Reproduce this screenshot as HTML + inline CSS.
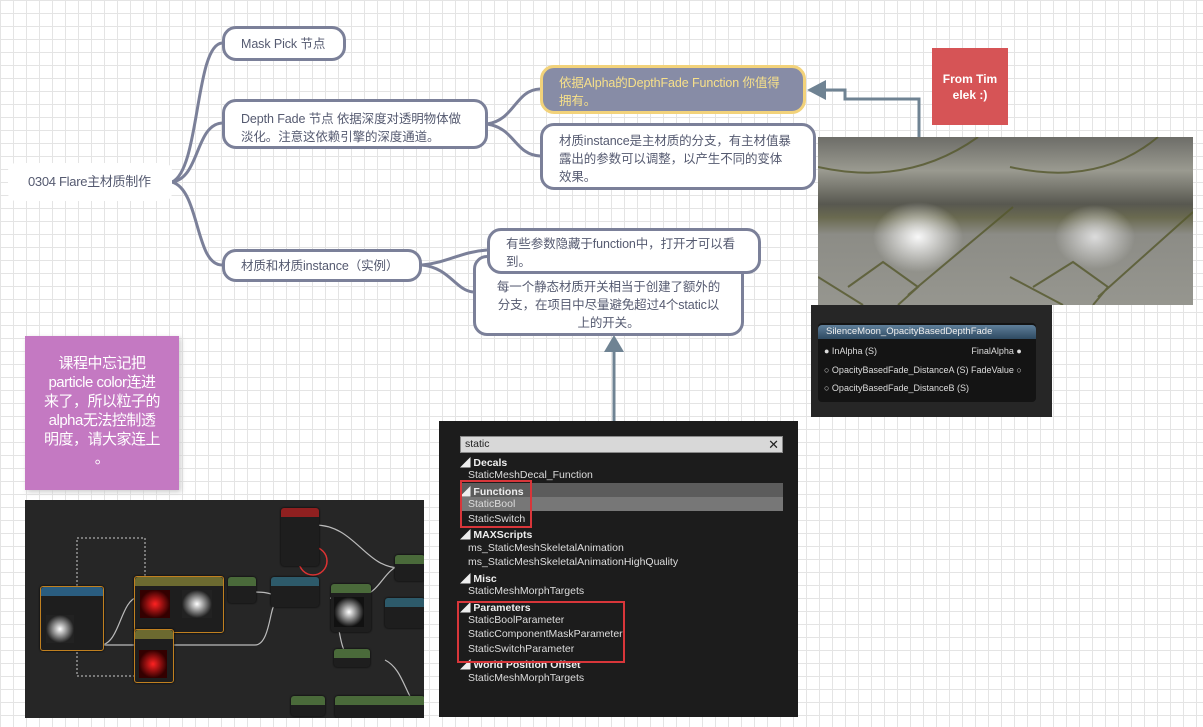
<!DOCTYPE html>
<html><head><meta charset="utf-8"><style>
body{margin:0;width:1203px;height:727px;overflow:hidden;position:relative;background-color:#fff;
background-image:linear-gradient(#e4e4e4 1px,transparent 1px),linear-gradient(90deg,#e4e4e4 1px,transparent 1px);background-size:13px 13px;
font-family:"Liberation Sans","Noto Sans CJK SC",sans-serif;}
.n{position:absolute;box-sizing:border-box;background:#fff;border:3px solid #7b8099;border-radius:14px;color:#555a70;font-size:12.5px;line-height:18px;white-space:nowrap;letter-spacing:-0.1px}
.a{position:absolute}
.s{position:absolute;left:468px;color:#ddd;font-size:10.5px;white-space:nowrap}
.h{position:absolute;left:460px;color:#eee;font-size:10.5px;font-weight:bold;white-space:nowrap}
.nd{position:absolute;background:#1e1e1e;border-radius:3px;box-shadow:0 0 2px #000}
.nt{height:9px;border-radius:3px 3px 0 0}
</style></head><body>

<svg class="a" style="left:0;top:0" width="1203" height="727">
<g fill="none" stroke="#7b8099" stroke-width="3">
<path d="M172 182 C200 170,195 45,222 43"/>
<path d="M172 182 C200 178,195 125,222 123"/>
<path d="M172 182 C200 190,195 265,222 265"/>
<path d="M487 124 C515 120,515 90,540 89"/>
<path d="M487 124 C515 128,515 155,540 156"/>
<path d="M422 265 C450 262,460 252,487 250"/>
<path d="M422 265 C450 268,455 290,473 292"/>
</g>
<path d="M919 137 V99 H845 V90 H822" fill="none" stroke="#6f8393" stroke-width="3"/>
<polygon points="807,90 826,80 826,100" fill="#6f8393"/>
<path d="M614 421 V350" fill="none" stroke="#6f8393" stroke-width="3"/>
<polygon points="614,335 604,352 624,352" fill="#6f8393"/>
</svg>

<div class="a" style="left:8px;top:163px;width:164px;height:38px;background:#fff;border-radius:8px;font-size:13px;color:#555a70;line-height:38px;padding-left:20px;box-sizing:border-box;white-space:nowrap;letter-spacing:-0.3px">0304 Flare主材质制作</div>
<div class="n" style="left:222px;top:26px;width:124px;height:35px;padding:6px 16px">Mask Pick 节点</div>
<div class="n" style="left:222px;top:99px;width:266px;height:50px;padding:8px 14px 0 16px;line-height:18px">Depth Fade 节点 依据深度对透明物体做<br>淡化。注意这依赖引擎的深度通道。</div>
<div class="n" style="left:222px;top:249px;width:200px;height:33px;padding:5px 16px">材质和材质instance（实例）</div>
<div class="n" style="left:540px;top:65px;width:266px;height:49px;padding:6px 12px 0 16px;background:#878ca6;border-color:#f2d27a;color:#f7e08a">依据Alpha的DepthFade Function 你值得<br>拥有。</div>
<div class="n" style="left:540px;top:123px;width:276px;height:67px;padding:6px 10px 0 16px">材质instance是主材质的分支，有主材值暴<br>露出的参数可以调整，以产生不同的变体<br>效果。</div>
<div class="n" style="left:473px;top:255px;width:271px;height:81px;padding:20px 10px 0;text-align:center">每一个静态材质开关相当于创建了额外的<br>分支，在项目中尽量避免超过4个static以<br>上的开关。</div>
<div class="n" style="left:487px;top:228px;width:274px;height:46px;padding:4px 12px 0 16px">有些参数隐藏于function中，打开才可以看<br>到。</div>

<div class="a" style="left:932px;top:48px;width:76px;height:77px;background:#d65456;color:#fff;font-size:12px;font-weight:bold;text-align:center;line-height:16px;padding-top:23px;box-sizing:border-box">From Tim elek :)</div>

<div class="a" style="left:25px;top:336px;width:154px;height:154px;background:#c479c2;color:#fff;font-size:15px;line-height:19px;text-align:center;padding:18px 10px 0;box-sizing:border-box;box-shadow:2px 2px 5px #ccc;letter-spacing:-0.5px">课程中忘记把<br>particle color连进<br>来了，所以粒子的<br>alpha无法控制透<br>明度，请大家连上<br>。</div>

<!-- photos -->
<div class="a" style="left:818px;top:137px;width:192px;height:168px;background:radial-gradient(ellipse 45px 35px at 100px 100px,#f8f8f8,rgba(255,255,255,0) 100%),linear-gradient(#6d6d68 0,#9a9a90 20%,#585850 40%,#6a6a50 48%,#8c8c86 58%,#96968f 100%)"></div>
<div class="a" style="left:1010px;top:137px;width:183px;height:168px;background:radial-gradient(ellipse 40px 32px at 85px 100px,#dcdcdc,rgba(255,255,255,0) 100%),linear-gradient(#6d6d68 0,#9a9a90 20%,#585850 40%,#6a6a50 48%,#8c8c86 58%,#96968f 100%)"></div>
<svg class="a" style="left:818px;top:137px" width="375" height="168"><g fill="none" stroke="#55582c" stroke-width="2" opacity="0.8">
<path d="M0 140 L45 168 M30 150 L65 125 L100 150 L80 168 M90 158 L195 70"/>
<path d="M192 140 L245 168 M215 150 L255 125 L290 150 L275 168 M280 160 L375 75"/>
<path d="M0 30 Q90 50 160 0 M192 30 Q280 50 340 0"/></g></svg>

<!-- node panel -->
<div class="a" style="left:811px;top:305px;width:241px;height:112px;background:#262626">
 <div class="a" style="left:7px;top:18px;width:218px;height:79px;background:#141414;border-radius:4px"></div>
 <div class="a" style="left:7px;top:20px;width:218px;height:14px;background:linear-gradient(#5f7f9a,#2e4a62);border-radius:4px 4px 0 0;color:#eee;font-size:9.5px;line-height:14px;padding-left:8px;box-sizing:border-box">SilenceMoon_OpacityBasedDepthFade</div>
 <div class="a" style="left:13px;top:37px;color:#ddd;font-size:9px;line-height:18.5px;white-space:nowrap">● InAlpha (S)<br>○ OpacityBasedFade_DistanceA (S)<br>○ OpacityBasedFade_DistanceB (S)</div>
 <div class="a" style="left:160px;top:37px;color:#ddd;font-size:9px;line-height:18.5px;text-align:right;white-space:nowrap">FinalAlpha ●<br>FadeValue ○</div>
</div>

<!-- search panel -->
<div class="a" style="left:439px;top:421px;width:359px;height:296px;background:#1c1c1c"></div>
<div class="a" style="left:460px;top:436px;width:323px;height:17px;background:#d8d8d8;border:1px solid #888;box-sizing:border-box;font-size:10.5px;color:#222;padding-left:4px;line-height:15px">static<span style="float:right;padding-right:3px;font-size:13px">✕</span></div>
<div class="a" style="left:460px;top:483px;width:323px;height:28px;background:#5c5c5c"></div>
<div class="a" style="left:460px;top:497px;width:323px;height:14px;background:#777"></div>
<div class="h" style="top:455px">◢ Decals</div>
<div class="s" style="top:469px">StaticMeshDecal_Function</div>
<div class="h" style="top:484px">◢ Functions</div>
<div class="s" style="top:498px">StaticBool</div>
<div class="s" style="top:513px">StaticSwitch</div>
<div class="h" style="top:527px">◢ MAXScripts</div>
<div class="s" style="top:542px">ms_StaticMeshSkeletalAnimation</div>
<div class="s" style="top:556px">ms_StaticMeshSkeletalAnimationHighQuality</div>
<div class="h" style="top:571px">◢ Misc</div>
<div class="s" style="top:585px">StaticMeshMorphTargets</div>
<div class="h" style="top:600px">◢ Parameters</div>
<div class="s" style="top:614px">StaticBoolParameter</div>
<div class="s" style="top:628px">StaticComponentMaskParameter</div>
<div class="s" style="top:643px">StaticSwitchParameter</div>
<div class="h" style="top:657px">◢ World Position Offset</div>
<div class="s" style="top:672px">StaticMeshMorphTargets</div>
<div class="a" style="left:460px;top:480px;width:72px;height:48px;border:2px solid #d8363a;box-sizing:border-box"></div>
<div class="a" style="left:457px;top:601px;width:168px;height:62px;border:2px solid #d8363a;box-sizing:border-box"></div>

<!-- material graph -->
<div class="a" style="left:25px;top:500px;width:399px;height:218px;background:#262626;overflow:hidden">
<svg class="a" style="left:0;top:0" width="399" height="218"><g fill="none" stroke="#bbb" stroke-width="1.2">
<path d="M75 145 C95 145,95 100,113 97"/><path d="M75 145 H230"/><path d="M290 25 C330 25,340 68,375 68"/>
<path d="M230 92 C250 92,250 98,268 98"/><path d="M305 98 C315 98,310 160,330 160"/><path d="M360 160 C380 170,380 200,399 215"/>
<path d="M230 145 C245 145,245 105,250 105"/><path d="M340 95 C355 90,360 70,375 65"/></g>
<rect x="52" y="38" width="68" height="138" fill="none" stroke="#ccc" stroke-dasharray="2,2"/>
<circle cx="288" cy="61" r="14" fill="none" stroke="#d33" stroke-width="1.5"/></svg>
<div class="nd" style="left:15px;top:86px;width:62px;height:63px;border:1px solid #c08020"><div class="nt" style="background:#2a5d80"></div><div class="a" style="left:5px;top:28px;width:28px;height:28px;background:radial-gradient(#fff,#222 70%)"></div></div>
<div class="nd" style="left:109px;top:76px;width:88px;height:55px;border:1px solid #c08020"><div class="nt" style="background:#6c6a30"></div><div class="a" style="left:5px;top:13px;width:30px;height:28px;background:radial-gradient(#f22,#300 70%)"></div><div class="a" style="left:47px;top:13px;width:30px;height:28px;background:radial-gradient(#fff,#222 70%)"></div></div>
<div class="nd" style="left:109px;top:129px;width:38px;height:52px;border:1px solid #c08020"><div class="nt" style="background:#6c6a30"></div><div class="a" style="left:4px;top:20px;width:28px;height:28px;background:radial-gradient(#f22,#300 70%)"></div></div>
<div class="nd" style="left:203px;top:77px;width:28px;height:26px"><div class="nt" style="background:#4a6a3a"></div></div>
<div class="nd" style="left:246px;top:77px;width:48px;height:30px"><div class="nt" style="background:#2d5a6a"></div></div>
<div class="nd" style="left:256px;top:8px;width:38px;height:58px"><div class="nt" style="background:#902020"></div></div>
<div class="nd" style="left:306px;top:84px;width:40px;height:48px"><div class="nt" style="background:#4a6a3a"></div><div class="a" style="left:3px;top:13px;width:30px;height:30px;background:radial-gradient(#fff,#111 70%)"></div></div>
<div class="nd" style="left:309px;top:149px;width:36px;height:18px"><div class="nt" style="background:#4a6a3a"></div></div>
<div class="nd" style="left:370px;top:55px;width:30px;height:26px"><div class="nt" style="background:#4a6a3a"></div></div>
<div class="nd" style="left:360px;top:98px;width:40px;height:30px"><div class="nt" style="background:#2d5a6a"></div></div>
<div class="nd" style="left:266px;top:196px;width:34px;height:20px"><div class="nt" style="background:#4a6a3a"></div></div>
<div class="nd" style="left:310px;top:196px;width:90px;height:22px"><div class="nt" style="background:#4a6a3a"></div></div>
</div>
</body></html>
